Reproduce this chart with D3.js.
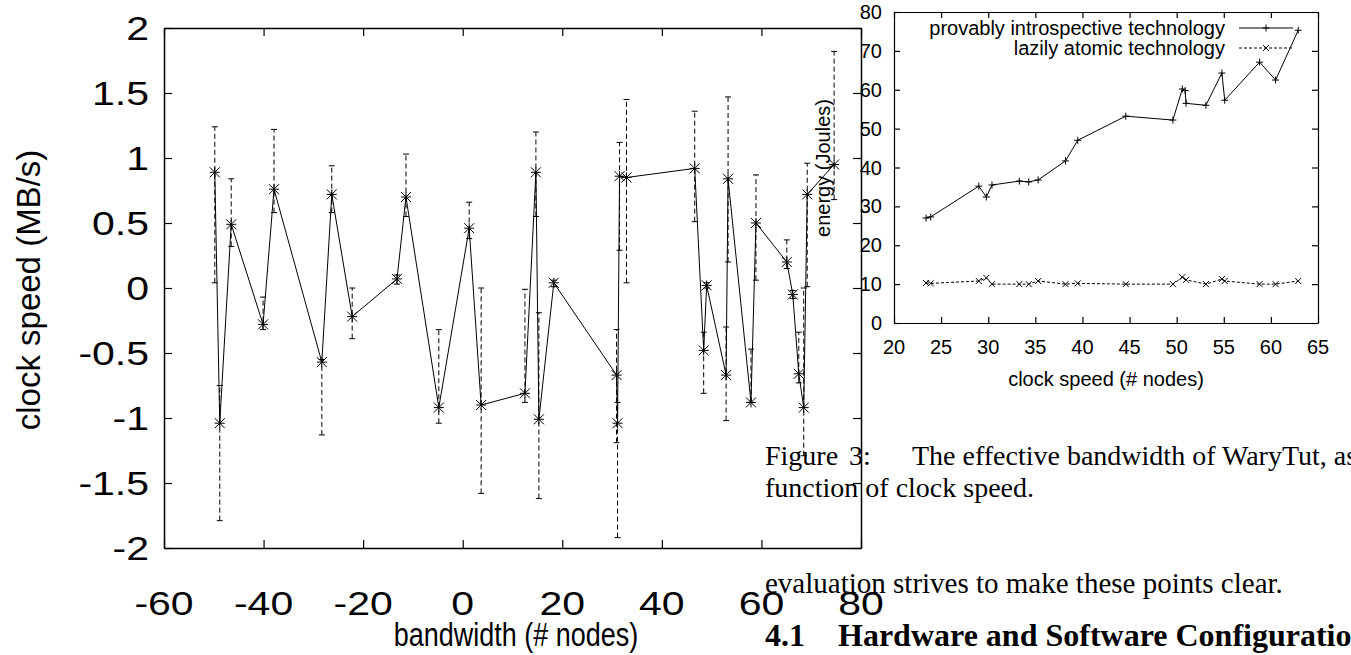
<!DOCTYPE html>
<html>
<head>
<meta charset="utf-8">
<script src="https://cdn.jsdelivr.net/npm/d3@7"></script>
<style>
  body { margin: 0; background: #fff; }
  svg { display: block; }
  .sans { font-family: "Liberation Sans", Arial, sans-serif; fill: #000; }
  .serif { font-family: "Liberation Serif", "Times New Roman", serif; fill: #000; }
</style>
</head>
<body>
<div id="canvas"></div>
<script>
// left chart: bandwidth vs clock speed with error bars
var bwX  = [-49.8, -48.8, -46.5, -40.1, -37.9, -28.3, -26.3, -22.2, -13.2, -11.4, -4.8, 1.3, 3.7, 12.5, 14.7, 15.3, 18.3, 30.9, 31.1, 31.5, 32.9, 46.6, 48.4, 49.0, 52.9, 53.3, 57.9, 58.9, 65.1, 66.3, 67.5, 68.5, 69.2, 74.6];
var bwY  = [0.89, -1.04, 0.49, -0.28, 0.76, -0.57, 0.72, -0.22, 0.07, 0.70, -0.92, 0.46, -0.90, -0.81, 0.89, -1.01, 0.04, -0.67, -1.04, 0.86, 0.85, 0.92, -0.48, 0.02, -0.67, 0.84, -0.88, 0.50, 0.20, -0.05, -0.66, -0.92, 0.72, 0.95];
var bwLo = [0.04, -1.79, 0.32, -0.32, 0.58, -1.13, 0.58, -0.39, 0.03, 0.55, -1.04, 0.38, -1.58, -0.88, 0.55, -1.62, 0.01, -1.19, -1.92, 0.29, 0.04, 0.51, -0.81, 0.00, -1.02, 0.20, -0.88, 0.06, 0.15, -0.08, -0.73, -1.29, 0.01, 0.68];
var bwHi = [1.24, -0.75, 0.84, -0.07, 1.22, -0.55, 0.94, 0.00, 0.10, 1.03, -0.32, 0.66, 0.00, -0.01, 1.20, -0.19, 0.06, -0.32, -0.88, 1.12, 1.45, 1.36, -0.34, 0.04, -0.30, 1.47, -0.47, 0.87, 0.37, -0.02, -0.34, 0.00, 0.96, 1.82];
var bwXTicks = [-60, -40, -20, 0, 20, 40, 60, 80];
var bwYTicks = [-2, -1.5, -1, -0.5, 0, 0.5, 1, 1.5, 2];

// right chart: energy vs clock speed
var introX = [23.4, 23.9, 29.0, 29.8, 30.4, 33.3, 34.3, 35.3, 38.2, 39.5, 44.6, 49.6, 50.6, 50.9, 51.0, 53.1, 54.8, 55.1, 58.8, 60.5, 62.9];
var introY = [27.0, 27.3, 35.2, 32.4, 35.5, 36.5, 36.3, 36.8, 41.7, 47.0, 53.2, 52.2, 60.2, 59.8, 56.5, 56.0, 64.3, 57.3, 67.1, 62.5, 75.3];
var lazyX  = [23.4, 23.9, 29.0, 29.8, 30.4, 33.3, 34.3, 35.3, 38.2, 39.5, 44.6, 49.6, 50.6, 51.0, 53.1, 54.8, 55.1, 58.8, 60.5, 62.9];
var lazyY  = [10.3, 10.2, 10.8, 11.6, 10.0, 10.0, 10.0, 10.8, 10.0, 10.2, 10.0, 10.0, 11.8, 11.1, 10.0, 11.3, 10.8, 10.0, 10.0, 10.8];
var enXTicks = [20, 25, 30, 35, 40, 45, 50, 55, 60, 65];
var enYTicks = [0, 10, 20, 30, 40, 50, 60, 70, 80];
var seriesNames = ['provably introspective technology', 'lazily atomic technology'];

var W = 1351, H = 655;
var svg = d3.select('#canvas').append('svg').attr('width', W).attr('height', H);

// text helper, sy squeezes/stretches the glyphs vertically like the scanned page
function label(g, str, x, y, o) {
  o = o || {};
  var t = g.append('text')
    .attr('class', o.cls || 'sans')
    .attr('text-anchor', o.anchor || 'middle')
    .style('font-size', (o.size || 27) + 'px')
    .attr('transform', 'translate(' + x + ',' + y + ') scale(1,' + (o.sy || 1) + ')' + (o.rot ? ' rotate(' + o.rot + ')' : ''))
    .text(str);
  if (o.bold) t.style('font-weight', 'bold');
  if (o.ws) t.style('word-spacing', o.ws + 'px');
  return t;
}

//------------- left chart -------------
var L = {l: 164, r: 861, t: 28, b: 548};
var xL = d3.scaleLinear().domain([-60, 80]).range([L.l, L.r]);
var yL = d3.scaleLinear().domain([-2, 2]).range([L.b, L.t]);
var left = svg.append('g');

function ticksIn(g, axis, tx, ty) {
  g.append('g').attr('transform', 'translate(' + tx + ',' + ty + ')')
    .call(axis)
    .call(function(s) {
      s.selectAll('text').remove();
      s.select('.domain').attr('stroke', '#000').attr('stroke-width', 1.5);
      s.selectAll('.tick line').attr('stroke', '#000').attr('stroke-width', 1.2);
    });
}
ticksIn(left, d3.axisBottom(xL).tickValues(bwXTicks).tickSizeInner(-8).tickSizeOuter(0), 0, L.b);
ticksIn(left, d3.axisTop(xL).tickValues(bwXTicks).tickSizeInner(-8).tickSizeOuter(0), 0, L.t);
ticksIn(left, d3.axisLeft(yL).tickValues(bwYTicks).tickSizeInner(-8).tickSizeOuter(0), L.l, 0);
ticksIn(left, d3.axisRight(yL).tickValues(bwYTicks).tickSizeInner(-8).tickSizeOuter(0), L.r, 0);

bwYTicks.forEach(function(v) {
  label(left, String(v), 149, yL(v) + 12, {anchor: 'end', size: 41, sy: 0.8});
});
bwXTicks.forEach(function(v) {
  label(left, String(v), xL(v), 615, {size: 41, sy: 0.8});
});
label(left, 'clock speed (MB/s)', 40, 290, {rot: -90, size: 33});
label(left, 'bandwidth (# nodes)', 516, 646, {sy: 1.22});

var bw = bwX.map(function(x, i) { return {x: x, y: bwY[i], lo: bwLo[i], hi: bwHi[i]}; });

// error bars
var eb = left.append('g').attr('stroke', '#000').attr('stroke-width', 1).attr('fill', 'none');
eb.selectAll('.bar').data(bw).enter().append('line')
  .attr('x1', function(d) { return xL(d.x); }).attr('x2', function(d) { return xL(d.x); })
  .attr('y1', function(d) { return yL(d.lo); }).attr('y2', function(d) { return yL(d.hi); })
  .attr('stroke-dasharray', '5,3');
eb.selectAll('.capLo').data(bw).enter().append('line')
  .attr('x1', function(d) { return xL(d.x) - 3; }).attr('x2', function(d) { return xL(d.x) + 3; })
  .attr('y1', function(d) { return yL(d.lo); }).attr('y2', function(d) { return yL(d.lo); });
eb.selectAll('.capHi').data(bw).enter().append('line')
  .attr('x1', function(d) { return xL(d.x) - 3; }).attr('x2', function(d) { return xL(d.x) + 3; })
  .attr('y1', function(d) { return yL(d.hi); }).attr('y2', function(d) { return yL(d.hi); });

left.append('path').datum(bw)
  .attr('fill', 'none').attr('stroke', '#000').attr('stroke-width', 1)
  .attr('d', d3.line().x(function(d) { return xL(d.x); }).y(function(d) { return yL(d.y); }));

function star(r) {
  return 'M' + (-r) + ',0H' + r + 'M0,' + (-r) + 'V' + r +
    'M' + (-r) + ',' + (-r) + 'L' + r + ',' + r + 'M' + (-r) + ',' + r + 'L' + r + ',' + (-r);
}
left.selectAll('.pt').data(bw).enter().append('path')
  .attr('transform', function(d) { return 'translate(' + xL(d.x) + ',' + yL(d.y) + ')'; })
  .attr('d', star(5)).attr('stroke', '#000').attr('stroke-width', 1).attr('fill', 'none');

//------------- right chart -------------
var R = {l: 894, r: 1318, t: 12, b: 323};
var xS = d3.scaleLinear().domain([20, 65]).range([R.l, R.r]);
var yS = d3.scaleLinear().domain([0, 80]).range([R.b, R.t]);
var right = svg.append('g');

ticksIn(right, d3.axisBottom(xS).tickValues(enXTicks).tickSizeInner(-6).tickSizeOuter(0), 0, R.b);
ticksIn(right, d3.axisTop(xS).tickValues(enXTicks).tickSizeInner(-6).tickSizeOuter(0), 0, R.t);
ticksIn(right, d3.axisLeft(yS).tickValues(enYTicks).tickSizeInner(-6).tickSizeOuter(0), R.l, 0);
ticksIn(right, d3.axisRight(yS).tickValues(enYTicks).tickSizeInner(-6).tickSizeOuter(0), R.r, 0);
right.selectAll('.domain').attr('stroke-width', 1.2);

enYTicks.forEach(function(v) {
  label(right, String(v), 882, yS(v) + 7, {anchor: 'end', size: 20});
});
enXTicks.forEach(function(v) {
  label(right, String(v), xS(v), 354, {size: 20});
});
label(right, 'energy (Joules)', 830, 168, {rot: -90, size: 20});
label(right, 'clock speed (# nodes)', 1106, 386, {size: 20});

var intro = introX.map(function(x, i) { return {x: x, y: introY[i]}; });
var lazy = lazyX.map(function(x, i) { return {x: x, y: lazyY[i]}; });
var lineS = d3.line().x(function(d) { return xS(d.x); }).y(function(d) { return yS(d.y); });

function plus(r) { return 'M' + (-r) + ',0H' + r + 'M0,' + (-r) + 'V' + r; }
function cross(r) { return 'M' + (-r) + ',' + (-r) + 'L' + r + ',' + r + 'M' + (-r) + ',' + r + 'L' + r + ',' + (-r); }

right.append('path').datum(intro).attr('fill', 'none').attr('stroke', '#000').attr('stroke-width', 1).attr('d', lineS);
right.append('path').datum(lazy).attr('fill', 'none').attr('stroke', '#000').attr('stroke-width', 1)
  .attr('stroke-dasharray', '3,2').attr('d', lineS);
right.selectAll('.pi').data(intro).enter().append('path')
  .attr('transform', function(d) { return 'translate(' + xS(d.x) + ',' + yS(d.y) + ')'; })
  .attr('d', plus(3.5)).attr('stroke', '#000').attr('fill', 'none');
right.selectAll('.pl').data(lazy).enter().append('path')
  .attr('transform', function(d) { return 'translate(' + xS(d.x) + ',' + yS(d.y) + ')'; })
  .attr('d', cross(3)).attr('stroke', '#000').attr('fill', 'none');

// legend
var legend = right.append('g');
seriesNames.forEach(function(name, i) {
  var ly = 28 + i * 20;
  label(legend, name, 1225, ly + 7, {anchor: 'end', size: 20});
  legend.append('line').attr('x1', 1239).attr('x2', 1293).attr('y1', ly).attr('y2', ly)
    .attr('stroke', '#000').attr('stroke-dasharray', i ? '3,2' : null);
  legend.append('path').attr('transform', 'translate(1266,' + ly + ')')
    .attr('d', i ? cross(3) : plus(3.5)).attr('stroke', '#000').attr('fill', 'none');
});

//------------- page text -------------
var page = svg.append('g');
label(page, 'Figure', 765, 465, {cls: 'serif', anchor: 'start', size: 28});
label(page, '3:', 849, 465, {cls: 'serif', anchor: 'start', size: 28});
label(page, 'The effective bandwidth of WaryTut, as', 912, 465, {cls: 'serif', anchor: 'start', size: 28});
label(page, 'function of clock speed.', 765, 497, {cls: 'serif', anchor: 'start', size: 28});
label(page, 'evaluation strives to make these points clear.', 765, 593, {cls: 'serif', anchor: 'start', size: 29});
label(page, '4.1', 765, 646, {cls: 'serif', anchor: 'start', size: 32, bold: true});
label(page, 'Hardware and Software Configuration', 838, 646, {cls: 'serif', anchor: 'start', size: 32, bold: true});
</script>
</body>
</html>
